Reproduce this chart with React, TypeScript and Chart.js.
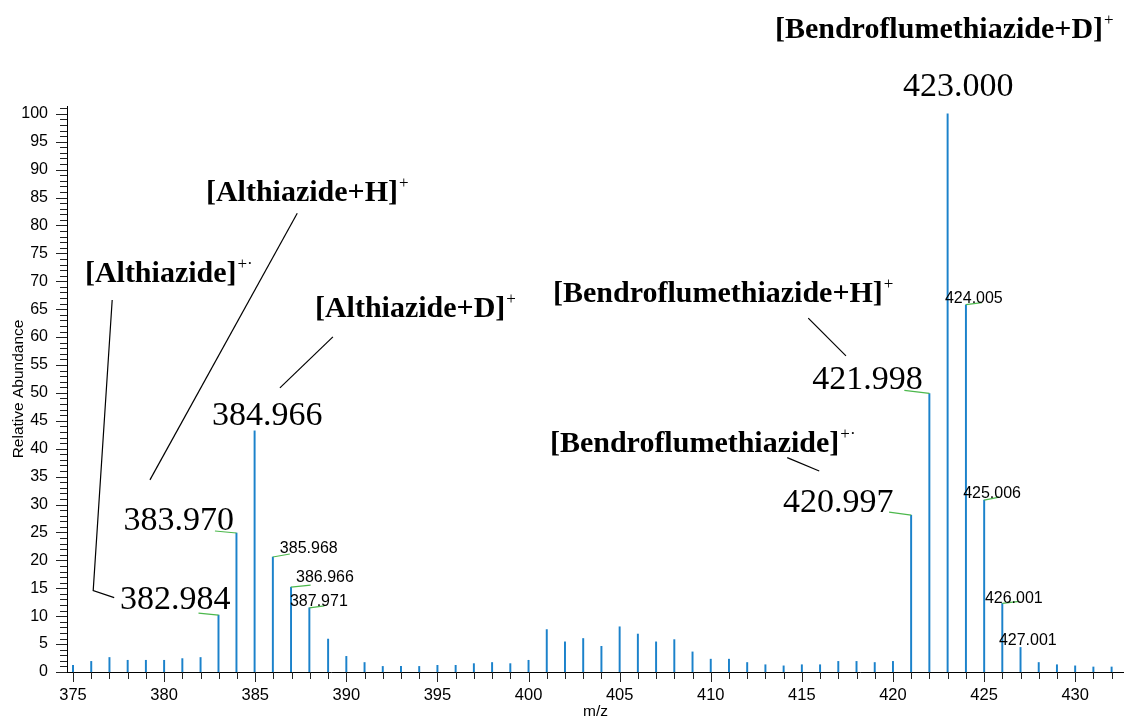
import React, { useEffect, useRef } from "react";
import { Chart, registerables } from "chart.js";

Chart.register(...registerables);

// ---------- data ----------
const MZ = [
  375, 376, 377, 378, 379, 380, 381, 382,
  382.984, 383.97, 384.966, 385.968, 386.966, 387.971,
  389, 390, 391, 392, 393, 394, 395, 396, 397, 398, 399, 400,
  401, 402, 403, 404, 405, 406, 407, 408, 409, 410, 411, 412,
  413, 414, 415, 416, 417, 418, 419, 420,
  420.997, 421.998, 423.0, 424.005, 425.006, 426.001, 427.001,
  428, 429, 430, 431, 432,
];
const INTENSITY = [
  1.2, 1.9, 2.6, 2.1, 2.1, 2.1, 2.4, 2.6,
  10.2, 24.9, 43.2, 20.6, 15.2, 11.5,
  5.9, 2.8, 1.7, 1.0, 1.0, 1.0, 1.2, 1.2, 1.5, 1.7, 1.5, 2.1,
  7.6, 5.4, 6.0, 4.6, 8.1, 6.8, 5.4, 5.8, 3.6, 2.3, 2.3, 1.7,
  1.3, 1.1, 1.3, 1.3, 1.9, 1.9, 1.7, 1.9,
  28.1, 49.9, 100, 65.8, 30.8, 12.3, 4.4,
  1.7, 1.3, 1.1, 0.9, 0.9,
];
const X_TICKS = [375, 380, 385, 390, 395, 400, 405, 410, 415, 420, 425, 430];
const Y_TICKS = [0, 5, 10, 15, 20, 25, 30, 35, 40, 45, 50, 55, 60, 65, 70, 75, 80, 85, 90, 95, 100];

const LARGE_LABEL_PEAKS = [382.984, 383.97, 384.966, 420.997, 421.998, 423.0];
const SMALL_LABEL_PEAKS = [385.968, 386.966, 387.971, 424.005, 425.006, 426.001, 427.001];
const LEADER_PEAKS = [382.984, 383.97, 385.968, 386.966, 387.971, 420.997, 421.998, 424.005, 425.006, 426.001];

const COMPOUND_PEAKS = [382.984, 383.97, 384.966, 420.997, 421.998, 423.0];
const COMPOUND_NAMES = [
  "[Althiazide]",
  "[Althiazide+H]",
  "[Althiazide+D]",
  "[Bendroflumethiazide]",
  "[Bendroflumethiazide+H]",
  "[Bendroflumethiazide+D]",
];
const COMPOUND_CHARGES = ["+·", "+", "+", "+·", "+", "+"];

// ---------- layout (pixel offsets relative to each peak top) ----------
const LARGE_LABEL_OFFSETS: number[][] = [
  [-98.6, -6], [-113, -3], [-42.7, -6], [-128, -3], [-117, -4.6], [-44.7, -18],
];
const SMALL_LABEL_OFFSETS: number[][] = [
  [7, -4], [5, -5], [-19.4, -1.8], [-21, -2], [-21, -2], [-17.4, 0], [-21.6, -2.4],
];
const LEADER_OFFSETS: number[][] = [
  [-20, -2], [-21.5, -2], [17, -3], [19.6, -2], [15, -2], [-22, -3], [-25, -3], [16, -2], [15, -3], [17, -2],
];
const COMPOUND_OFFSETS: number[][] = [
  [-133.6, -333.4], [-30.5, -332.4], [60.3, -114.3], [-361.2, -63.5], [-376.4, -91.9], [-172.7, -76],
];
const CONNECTORS: number[][][] = [
  [[-106.3, -315.1], [-125.3, -24.4], [-104.3, -17.4]],
  [[60.8, -319.8], [-86.5, -53.1]],
  [[78.3, -94], [25.3, -43]],
  [[-123.9, -57.5], [-91.9, -44.2]],
  [[-121.1, -75.3], [-83.4, -37.6]],
  [],
];

const SANS = "'Liberation Sans', Arial, sans-serif";
const SERIF = "'Liberation Serif', 'Times New Roman', serif";
const BAR_COLOR = "#1b82cb";
const LEADER_COLOR = "#4cb84c";

function intensityAt(mz: number): number {
  return INTENSITY[MZ.indexOf(mz)];
}

const tickPlugin = {
  id: "minorTicks",
  afterDraw(chart: any) {
    const { ctx, chartArea, scales } = chart;
    const x = scales.x;
    const y = scales.y;
    ctx.save();
    ctx.strokeStyle = "#222";
    ctx.lineWidth = 1;
    ctx.beginPath();
    for (let v = Math.ceil(y.min); v <= Math.floor(y.max); v++) {
      const py = Math.round(y.getPixelForValue(v)) + 0.5;
      const len = v % 5 === 0 ? 11 : 7;
      ctx.moveTo(chartArea.left - len, py);
      ctx.lineTo(chartArea.left, py);
    }
    for (let m = Math.ceil(x.min); m <= Math.floor(x.max); m++) {
      const px = Math.round(x.getPixelForValue(m)) + 0.5;
      const len = m % 5 === 0 ? 10 : 7;
      ctx.moveTo(px, chartArea.bottom);
      ctx.lineTo(px, chartArea.bottom + len);
    }
    ctx.stroke();
    ctx.restore();
  },
};

const annotationPlugin = {
  id: "peakAnnotations",
  afterDatasetsDraw(chart: any) {
    const { ctx, scales } = chart;
    const top = (mz: number) => ({
      px: scales.x.getPixelForValue(mz),
      py: scales.y.getPixelForValue(intensityAt(mz)),
    });
    ctx.save();

    // green leaders
    ctx.strokeStyle = LEADER_COLOR;
    ctx.lineWidth = 1.2;
    LEADER_PEAKS.forEach((mz, i) => {
      const { px, py } = top(mz);
      const [dx, dy] = LEADER_OFFSETS[i];
      ctx.beginPath();
      ctx.moveTo(px, py);
      ctx.lineTo(px + dx, py + dy);
      ctx.stroke();
    });

    ctx.fillStyle = "#000";
    ctx.textAlign = "left";
    ctx.textBaseline = "alphabetic";

    ctx.font = `34px ${SERIF}`;
    LARGE_LABEL_PEAKS.forEach((mz, i) => {
      const { px, py } = top(mz);
      const [dx, dy] = LARGE_LABEL_OFFSETS[i];
      ctx.fillText(mz.toFixed(3), px + dx, py + dy);
    });

    ctx.font = `16px ${SANS}`;
    SMALL_LABEL_PEAKS.forEach((mz, i) => {
      const { px, py } = top(mz);
      const [dx, dy] = SMALL_LABEL_OFFSETS[i];
      ctx.fillText(mz.toFixed(3), px + dx, py + dy);
    });

    // compound names + connectors
    ctx.strokeStyle = "#000";
    ctx.lineWidth = 1.2;
    COMPOUND_PEAKS.forEach((mz, i) => {
      const { px, py } = top(mz);
      const [dx, dy] = COMPOUND_OFFSETS[i];
      const tx = px + dx;
      const ty = py + dy;
      ctx.font = `bold 30px ${SERIF}`;
      ctx.fillText(COMPOUND_NAMES[i], tx, ty);
      const w = ctx.measureText(COMPOUND_NAMES[i]).width;
      ctx.font = `17px ${SERIF}`;
      ctx.fillText(COMPOUND_CHARGES[i], tx + w + 1, ty - 13);

      const pts = CONNECTORS[i];
      if (pts.length > 1) {
        ctx.beginPath();
        ctx.moveTo(px + pts[0][0], py + pts[0][1]);
        for (let k = 1; k < pts.length; k++) ctx.lineTo(px + pts[k][0], py + pts[k][1]);
        ctx.stroke();
      }
    });

    ctx.restore();
  },
};

export default function App() {
  const canvasRef = useRef<HTMLCanvasElement | null>(null);

  useEffect(() => {
    if (!canvasRef.current) return;
    const chart = new Chart(canvasRef.current, {
      type: "bar",
      data: {
        datasets: [
          {
            data: MZ.map((m, i) => ({ x: m, y: INTENSITY[i] })),
            backgroundColor: BAR_COLOR,
            borderWidth: 0,
            barThickness: 1.3,
          } as any,
        ],
      },
      options: {
        animation: false,
        responsive: true,
        maintainAspectRatio: false,
        devicePixelRatio: 1,
        layout: { padding: { top: 106, right: 0, bottom: 0, left: 0 } },
        plugins: {
          legend: { display: false },
          tooltip: { enabled: false },
          title: { display: false },
        },
        scales: {
          x: {
            type: "linear",
            min: 374.67,
            max: 432.68,
            offset: false,
            grid: { display: false, offset: false },
            border: { display: true, color: "#000", width: 1 },
            ticks: {
              color: "#000",
              font: { family: SANS, size: 16.5 },
              padding: 6,
              maxRotation: 0,
              autoSkip: false,
            },
            afterBuildTicks: (s: any) => {
              s.ticks = X_TICKS.map((v) => ({ value: v }));
            },
            afterFit: (s: any) => {
              s.height = 49;
            },
            title: {
              display: true,
              text: "m/z",
              color: "#000",
              font: { family: SANS, size: 15.5 },
              padding: { top: 0, bottom: 0 },
            },
          },
          y: {
            type: "linear",
            min: 0,
            max: 101.4,
            grid: { display: false },
            border: { display: true, color: "#000", width: 1 },
            ticks: {
              color: "#000",
              font: { family: SANS, size: 16 },
              padding: 11,
              autoSkip: false,
            },
            afterBuildTicks: (s: any) => {
              s.ticks = Y_TICKS.map((v) => ({ value: v }));
            },
            afterFit: (s: any) => {
              s.width = 67;
            },
            title: {
              display: true,
              text: "Relative Abundance",
              color: "#000",
              font: { family: SANS, size: 15.5 },
              padding: { top: 9, bottom: 0 },
            },
          },
        },
      } as any,
      plugins: [tickPlugin, annotationPlugin],
    });
    return () => chart.destroy();
  }, []);

  return (
    <div style={{ position: "absolute", left: 0, top: 0, width: 1124, height: 721, background: "#fff" }}>
      <canvas ref={canvasRef} />
    </div>
  );
}
